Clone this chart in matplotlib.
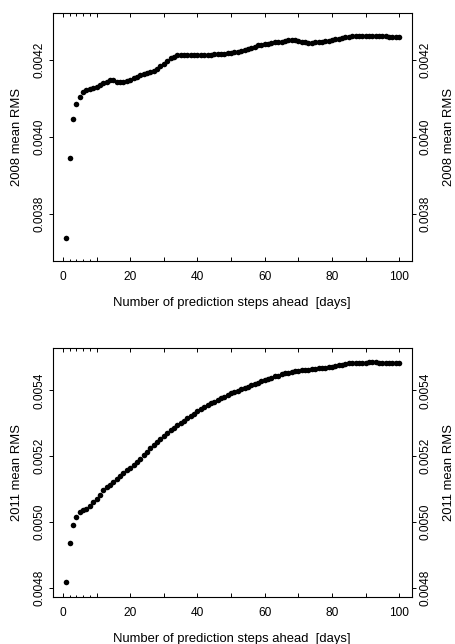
import numpy as np
import matplotlib
matplotlib.use("Agg")
import matplotlib.pyplot as plt
from matplotlib.ticker import FixedLocator, NullFormatter

plt.rcParams['font.family'] = ['Liberation Sans', 'DejaVu Sans']

steps = list(range(1, 101))

rms_2008 = [
    0.003737, 0.003946, 0.004046, 0.004085, 0.004103, 0.004116, 0.004121, 0.004124, 0.004128, 0.004130,
    0.004135, 0.004139, 0.004144, 0.004148, 0.004147, 0.004144, 0.004143, 0.004143, 0.004145, 0.004149,
    0.004152, 0.004156, 0.004160, 0.004163, 0.004165, 0.004168, 0.004172, 0.004177, 0.004184, 0.004191,
    0.004198, 0.004205, 0.004209, 0.004212, 0.004212, 0.004212, 0.004212, 0.004212, 0.004213, 0.004213,
    0.004213, 0.004214, 0.004214, 0.004214, 0.004215, 0.004215, 0.004216, 0.004217, 0.004218, 0.004219,
    0.004220, 0.004222, 0.004224, 0.004227, 0.004230, 0.004232, 0.004235, 0.004238, 0.004240, 0.004242,
    0.004243, 0.004245, 0.004246, 0.004247, 0.004248, 0.004250, 0.004251, 0.004252, 0.004252, 0.004250,
    0.004248, 0.004246, 0.004245, 0.004245, 0.004246, 0.004247, 0.004248, 0.004249, 0.004250, 0.004252,
    0.004254, 0.004256, 0.004258, 0.004260, 0.004261, 0.004262, 0.004263, 0.004263, 0.004263, 0.004263,
    0.004263, 0.004263, 0.004263, 0.004263, 0.004263, 0.004262, 0.004260, 0.004259, 0.004259, 0.004259,
]

rms_2011 = [
    0.004818, 0.004938, 0.004990, 0.005016, 0.005030, 0.005036, 0.005040, 0.005049, 0.005061, 0.005071,
    0.005081, 0.005097, 0.005107, 0.005113, 0.005122, 0.005131, 0.005141, 0.005149, 0.005157, 0.005165,
    0.005174, 0.005183, 0.005192, 0.005203, 0.005214, 0.005225, 0.005235, 0.005244, 0.005253, 0.005262,
    0.005271, 0.005279, 0.005286, 0.005294, 0.005301, 0.005308, 0.005315, 0.005322, 0.005329, 0.005336,
    0.005343, 0.005349, 0.005355, 0.005361, 0.005366, 0.005371, 0.005376, 0.005381, 0.005386, 0.005391,
    0.005395, 0.005399, 0.005403, 0.005407, 0.005411, 0.005415, 0.005419, 0.005423, 0.005427, 0.005431,
    0.005435, 0.005438, 0.005442, 0.005445, 0.005449, 0.005452, 0.005454, 0.005456, 0.005458, 0.005460,
    0.005461, 0.005462, 0.005463, 0.005464, 0.005466, 0.005467, 0.005468, 0.005469, 0.005471, 0.005472,
    0.005474, 0.005476, 0.005478, 0.005480, 0.005482, 0.005483, 0.005483, 0.005483, 0.005483, 0.005484,
    0.005485, 0.005486, 0.005487, 0.005484, 0.005483, 0.005483, 0.005483, 0.005483, 0.005483, 0.005483,
]

x_major = [0, 10, 20, 30, 40, 50, 60, 70, 80, 90, 100]
x_labels = ["0", "", "20", "", "40", "", "60", "", "80", "", "100"]
x_minor = [2, 4, 6, 8]
yticks_2008 = [0.0038, 0.0040, 0.0042]
yticks_2011 = [0.0048, 0.0050, 0.0052, 0.0054]
xlabel = "Number of prediction steps ahead  [days]"

W, H = 456, 644
FS = 8.6
LFS = 9.4
fig = plt.figure(figsize=(W / 100, H / 100), dpi=100)

def panel(rect, y, ylim, yticks, ylab):
    ax = fig.add_axes(rect)
    ax.plot(steps, y, 'o', color='black', ms=4.0, mec='black', mew=0)
    ax.set_xlim(-2.96, 103.8)
    ax.set_ylim(*ylim)
    for s in ax.spines.values():
        s.set_linewidth(0.8)
        s.set_color('black')
    ax.xaxis.set_major_locator(FixedLocator(x_major))
    ax.set_xticklabels(x_labels)
    ax.xaxis.set_minor_locator(FixedLocator(x_minor))
    ax.xaxis.set_minor_formatter(NullFormatter())
    ax.tick_params(axis='x', which='major', direction='in', top=True, bottom=True,
                   length=3.0, width=0.7, labelsize=FS, pad=7)
    ax.tick_params(axis='x', which='minor', direction='in', top=True, bottom=True,
                   length=1.8, width=0.7)
    ax.set_yticks(yticks)
    ax.set_yticklabels([f"{v:.4f}" for v in yticks])
    ax.tick_params(axis='y', which='major', direction='out', left=True, right=True,
                   labelleft=True, labelright=True, length=3.0, width=0.7,
                   labelsize=FS, pad=2.5)
    for t in ax.yaxis.get_major_ticks():
        t.label1.set_rotation(90); t.label1.set_va('center'); t.label1.set_ha('right')
        t.label2.set_rotation(90); t.label2.set_va('center'); t.label2.set_ha('left')
    fig.text(232 / W, rect[1] - 41.7 / H, xlabel,
             ha='center', va='center', fontsize=LFS)
    yc = rect[1] + rect[3] / 2
    fig.text(17 / W, yc, ylab, rotation=90, ha='center', va='center', fontsize=LFS)
    fig.text(449 / W, yc, ylab, rotation=90, ha='center', va='center', fontsize=LFS)
    return ax

panel([53 / W, 1 - 261 / H, 359 / W, 248 / H], rms_2008, (0.0036764, 0.0043226), yticks_2008, "2008 mean RMS")
panel([53 / W, 1 - 597 / H, 359 / W, 249 / H], rms_2011, (0.0047727, 0.0055285), yticks_2011, "2011 mean RMS")

fig.savefig("out.png", dpi=100)
